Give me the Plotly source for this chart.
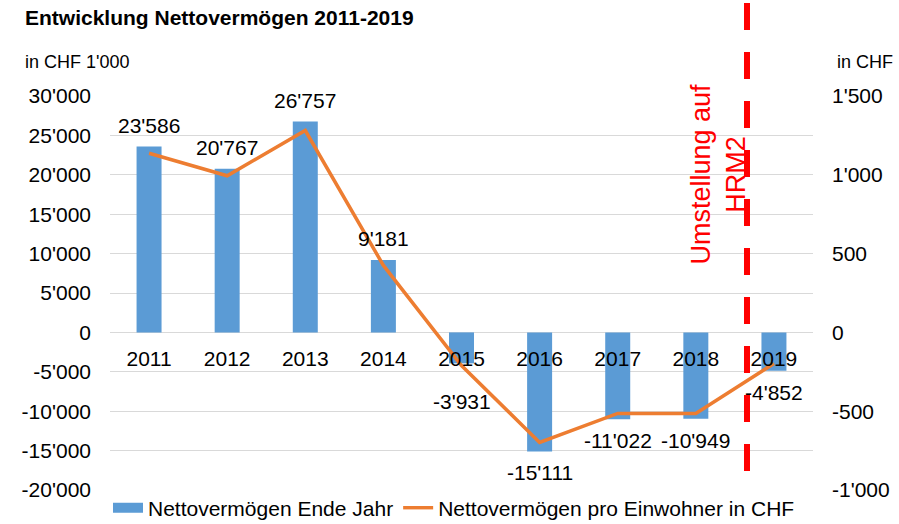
import plotly.graph_objects as go

# ---------------- data ----------------
years = ["2011", "2012", "2013", "2014", "2015", "2016", "2017", "2018", "2019"]
net_assets = [23586, 20767, 26757, 9181, -3931, -15111, -11022, -10949, -4852]      # CHF 1'000
per_capita = [1137, 994, 1281, 425, -210, -698, -514, -514, -197]                  # CHF
bar_labels = ["23'586", "20'767", "26'757", "9'181", "-3'931", "-15'111", "-11'022", "-10'949", "-4'852"]

left_tickvals = [-20000, -15000, -10000, -5000, 0, 5000, 10000, 15000, 20000, 25000, 30000]
left_ticktext = ["-20'000", "-15'000", "-10'000", "-5'000", "0", "5'000", "10'000", "15'000", "20'000", "25'000", "30'000"]
right_tickvals = [-1000, -500, 0, 500, 1000, 1500]
right_ticktext = ["-1'000", "-500", "0", "500", "1'000", "1'500"]

series_names = ["Nettovermögen Ende Jahr", "Nettovermögen pro Einwohner in CHF"]
title_text = "Entwicklung Nettovermögen 2011-2019"
hrm2_text = "Umstellung auf<br>HRM2"
hrm2_position = 7.655      # index position of the switch marker (between 2018 and 2019)
hrm2_text_position = 7.278

FONT = "Liberation Sans, Arial, sans-serif"
BLUE = "#5B9BD5"
ORANGE = "#ED7D31"
GRID = "#d9d9d9"

xi = list(range(len(years)))

fig = go.Figure()
fig.add_trace(go.Bar(
    x=xi, y=net_assets, name=series_names[0], showlegend=False,
    marker=dict(color=BLUE, line=dict(width=0)), width=0.32, yaxis="y",
))
# legend proxy for the bar series (wide block like the reference)
fig.add_trace(go.Scatter(
    x=[None], y=[None], name=series_names[0], mode="lines",
    line=dict(color=BLUE, width=13), yaxis="y",
))
fig.add_trace(go.Scatter(
    x=xi, y=per_capita, name=series_names[1], mode="lines",
    line=dict(color=ORANGE, width=3.5), yaxis="y2",
))

# value labels on bars
extra_shift = {"2015": 17}
annotations = []
for i, yr, v, t in zip(xi, years, net_assets, bar_labels):
    pos = v >= 0
    shift = 8 + extra_shift.get(yr, 0)
    annotations.append(dict(
        x=i, y=v, xref="x", yref="y", text=t, showarrow=False,
        yanchor="bottom" if pos else "top", yshift=shift if pos else -shift,
        font=dict(family=FONT, size=21, color="black"),
    ))

annotations += [
    dict(x=-0.124, y=1.087, xref="paper", yref="paper", text="in CHF 1'000", showarrow=False,
         xanchor="left", yanchor="middle", font=dict(family=FONT, size=18, color="black")),
    dict(x=1.031, y=1.087, xref="paper", yref="paper", text="in CHF", showarrow=False,
         xanchor="left", yanchor="middle", font=dict(family=FONT, size=18, color="black")),
    dict(x=hrm2_text_position, y=0.802, xref="x", yref="paper", text=hrm2_text, showarrow=False,
         textangle=-90, xanchor="center", yanchor="middle",
         font=dict(family=FONT, size=27, color="#FF0000")),
]

fig.update_layout(
    width=899, height=524,
    margin=dict(l=110, r=86, t=96, b=34, autoexpand=False),
    paper_bgcolor="white", plot_bgcolor="white",
    font=dict(family=FONT, size=20, color="black"),
    title=dict(text="<b>" + title_text + "</b>", x=0.0278, xref="container", xanchor="left",
               y=0.9656, yref="container", yanchor="middle",
               font=dict(family=FONT, size=21, color="black")),
    xaxis=dict(range=[-0.5, len(years) - 0.5], tickvals=xi, ticktext=years,
               anchor="free", position=0.4, showline=False, showgrid=False, zeroline=False,
               ticks="", ticklabelstandoff=12,
               tickfont=dict(family=FONT, size=21, color="black")),
    yaxis=dict(range=[-20000, 30000], tickvals=left_tickvals, ticktext=left_ticktext,
               showgrid=True, gridcolor=GRID, gridwidth=1,
               zeroline=True, zerolinecolor=GRID, zerolinewidth=1,
               showline=False, ticks="", ticklabelstandoff=18,
               tickfont=dict(family=FONT, size=21, color="black")),
    yaxis2=dict(range=[-1000, 1500], tickvals=right_tickvals, ticktext=right_ticktext,
                overlaying="y", side="right", showgrid=False, zeroline=False,
                showline=False, ticks="", ticklabelstandoff=18,
                tickfont=dict(family=FONT, size=21, color="black")),
    legend=dict(orientation="h", xref="container", x=0.505, xanchor="center",
                yref="container", y=0.0305, yanchor="middle",
                font=dict(family=FONT, size=21, color="black"),
                bgcolor="rgba(0,0,0,0)", tracegroupgap=0),
    showlegend=True,
    annotations=annotations,
    shapes=[dict(type="line", xref="x", yref="paper",
                 x0=hrm2_position, x1=hrm2_position, y0=1.236, y1=0.046,
                 line=dict(color="#FF0000", width=6, dash="27px,22px"))],
)

fig.write_html("out.html", config={"displayModeBar": False},
               post_script="document.body.style.margin='0px';")
